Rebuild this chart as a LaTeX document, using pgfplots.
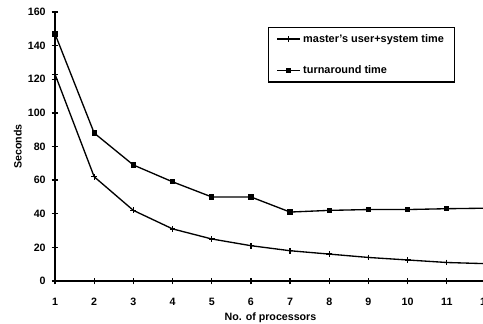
\documentclass[border=0pt]{standalone}
\usepackage{pgfplots}
\pgfplotsset{compat=1.18}
\usepackage{fontspec}
\setmainfont{Liberation Sans}
\begin{document}
\begin{tikzpicture}
\begin{axis}[
  scale only axis,
  width=323.25pt, height=201.75pt,
  xmin=1, xmax=12, ymin=0, ymax=160,
  axis lines=left,
  axis line style={line width=1.6pt, -},
  xtick={1,2,...,12}, ytick={0,20,...,160},
  tick align=center,
  major tick length=5pt,
  tick style={line width=1pt, black},
  font=\bfseries\fontsize{8}{9}\selectfont,
  /pgf/number format/assume math mode=true,
  xticklabel style={yshift=-7pt},
  yticklabel style={xshift=-1pt},
  xlabel={No. of processors},
  ylabel={Seconds},
  xlabel style={at={(axis description cs:0.5,-0.1375)}, anchor=center},
  ylabel style={at={(axis description cs:-0.086,0.5)}, anchor=center, rotate=0},
  legend style={at={(axis description cs:0.494,0.945)}, anchor=north west,
    draw=black, line width=1pt, font=\bfseries\fontsize{8.2}{9}\selectfont,
    row sep=12pt, inner xsep=6pt, inner ysep=3pt,
    /tikz/every even column/.append style={column sep=2pt}},
  legend image post style={line width=0.9pt},
  legend cell align=left,
  clip=false,
]
\addplot[black, line width=1pt, mark=+, mark size=2.2pt, mark options={line width=1pt}] coordinates {
(1,123) (2,62) (3,42) (4,31) (5,25) (6,21) (7,18) (8,16) (9,14) (10,12.5) (11,11) (12,10.3)
};
\addlegendentry{master's user+system time}
\addplot[black, line width=1pt, mark=square*, mark size=1.5pt] coordinates {
(1,147) (2,88) (3,69) (4,59) (5,50) (6,50) (7,41) (8,42) (9,42.5) (10,42.5) (11,43) (12,43.3)
};
\addlegendentry{turnaround time}
\end{axis}
\pgfresetboundingbox
\path[use as bounding box] (-41.25pt,-32.25pt) rectangle (321pt,210.75pt);
\end{tikzpicture}
\end{document}
